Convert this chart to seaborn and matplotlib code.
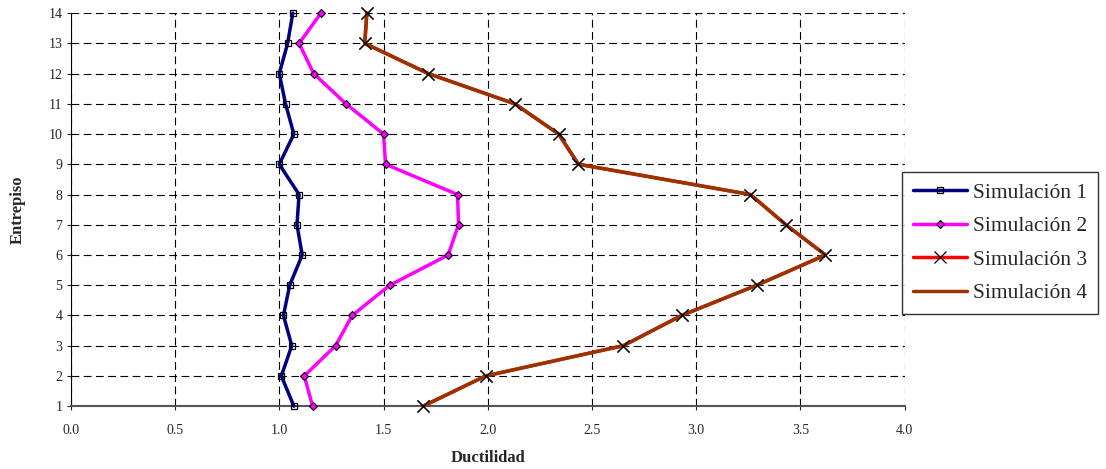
import matplotlib
matplotlib.use("Agg")
import matplotlib.pyplot as plt
import seaborn as sns
import pandas as pd

# floors (entrepiso) and ductility
entrepiso = list(range(1, 15))
sim1 = [1.07, 1.01, 1.06, 1.02, 1.05, 1.11, 1.085, 1.095, 1.00, 1.07, 1.03, 1.00, 1.04, 1.065]
sim2 = [1.16, 1.12, 1.27, 1.35, 1.53, 1.81, 1.86, 1.855, 1.51, 1.50, 1.32, 1.165, 1.095, 1.20]
sim3 = [1.69, 1.99, 2.65, 2.93, 3.29, 3.62, 3.43, 3.26, 2.435, 2.34, 2.13, 1.715, 1.41, 1.42]
sim4 = [1.69, 1.99, 2.65, 2.93, 3.29, 3.62, 3.43, 3.26, 2.435, 2.34, 2.13, 1.715, 1.41, 1.42]

sns.set_style("white")
plt.rcParams["font.family"] = ["Liberation Serif", "DejaVu Serif"]

fig = plt.figure(figsize=(11.06, 4.69), dpi=100)
ax = fig.add_axes([0.064, 0.134, 0.754, 0.838])

df1 = pd.DataFrame({"x": sim1, "y": entrepiso})
df2 = pd.DataFrame({"x": sim2, "y": entrepiso})
df3 = pd.DataFrame({"x": sim3, "y": entrepiso})
df4 = pd.DataFrame({"x": sim4, "y": entrepiso})

sns.lineplot(data=df1, x="x", y="y", sort=False, estimator=None, ax=ax,
             color="#000080", lw=2.5, marker="s", ms=5, mfc="none",
             mec="black", mew=0.9, label="Simulación 1", zorder=5, clip_on=False)
sns.lineplot(data=df2, x="x", y="y", sort=False, estimator=None, ax=ax,
             color="#FF00FF", lw=2.5, marker="D", ms=4.5, mfc="#FF00FF",
             mec="black", mew=0.8, label="Simulación 2", zorder=5, clip_on=False)
sns.lineplot(data=df3, x="x", y="y", sort=False, estimator=None, ax=ax,
             color="#FF0000", lw=2.5, marker="x", ms=9, mec="black",
             mew=0.9, label="Simulación 3", zorder=3, clip_on=False)
sns.lineplot(data=df4, x="x", y="y", sort=False, estimator=None, ax=ax,
             color="#993300", lw=2.5, label="Simulación 4", zorder=4, clip_on=False)
# x markers of sim 3 sit above the brown line
ax.plot(df3["x"], df3["y"], ls="none", marker="x", ms=9, mec="black",
        mew=0.9, zorder=6, clip_on=False)

ax.set_xlim(0, 4.0)
ax.set_ylim(1, 14)
ax.set_xticks([0, 0.5, 1.0, 1.5, 2.0, 2.5, 3.0, 3.5, 4.0])
ax.set_xticklabels(["0.0", "0.5", "1.0", "1.5", "2.0", "2.5", "3.0", "3.5", "4.0"])
ax.set_yticks(entrepiso)
ax.tick_params(axis="both", labelsize=10, length=3, direction="out",
               bottom=True, left=True, pad=10)
ax.tick_params(axis="y", pad=3)
ax.grid(True, color="black", ls=(0, (7, 4)), lw=0.8)
ax.set_axisbelow(True)

for s in ["top", "right"]:
    ax.spines[s].set_visible(False)
ax.spines["left"].set_color("black")
ax.spines["bottom"].set_color("#555555")
ax.spines["bottom"].set_linewidth(1.5)

ax.set_xlabel("Ductilidad", fontsize=12, fontweight="bold", labelpad=9)
ax.set_ylabel("Entrepiso", fontsize=12, fontweight="bold", labelpad=16)

leg = ax.legend(loc="center left", bbox_to_anchor=(0.997, 0.415), fontsize=15.5,
                frameon=True, fancybox=False, edgecolor="black",
                borderpad=0.5, labelspacing=0.62, handlelength=2.5,
                handletextpad=0.3, borderaxespad=0)
leg.get_frame().set_linewidth(1.0)

fig.savefig("out.png", dpi=100)
